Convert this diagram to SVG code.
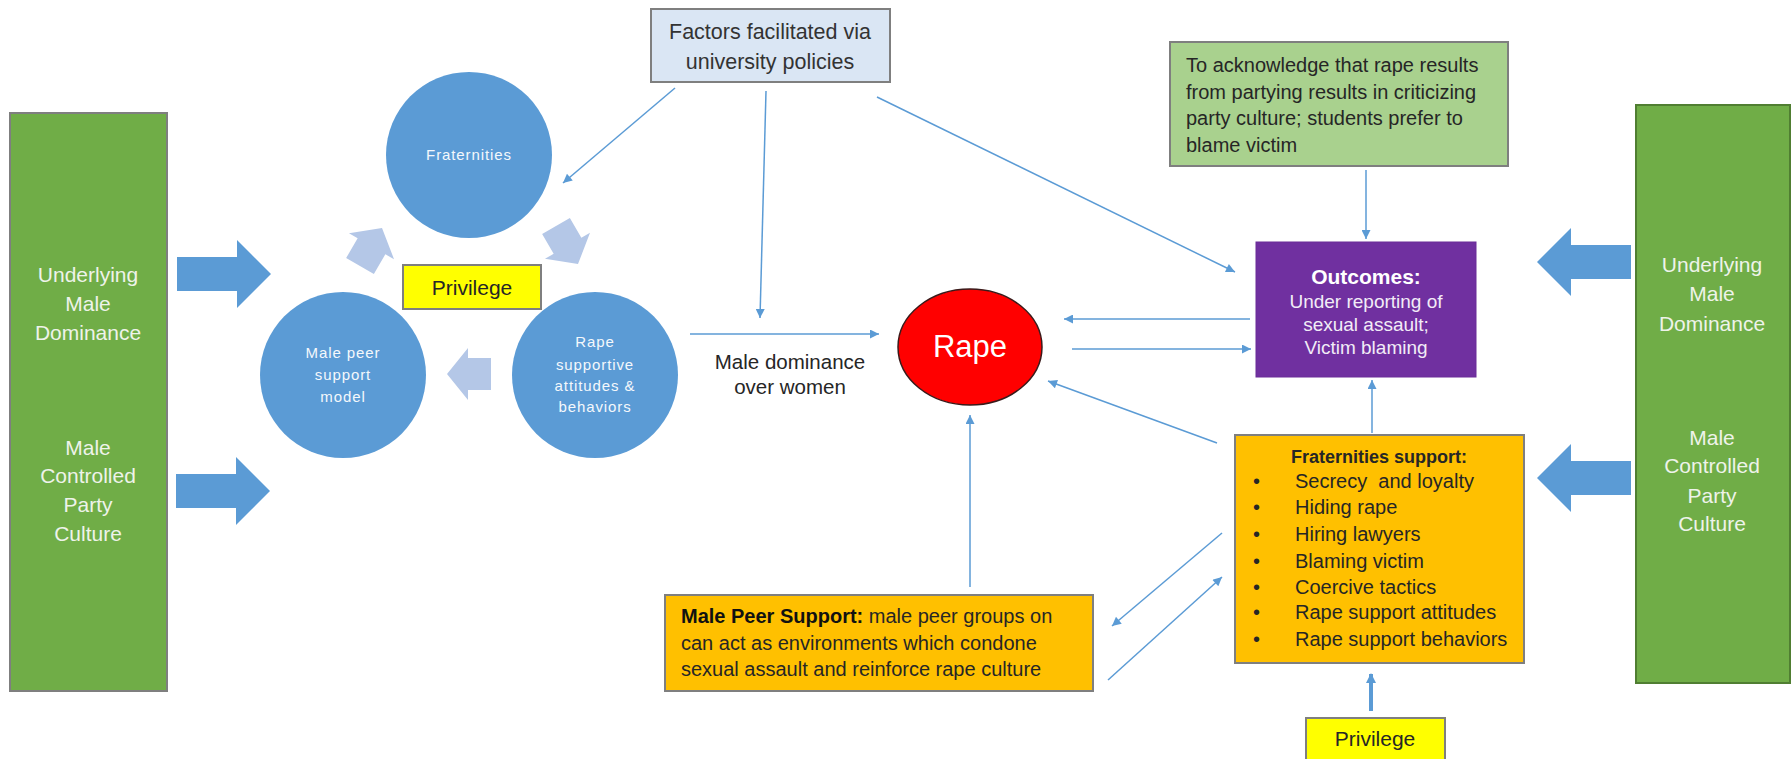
<svg xmlns="http://www.w3.org/2000/svg" width="1792" height="759" viewBox="0 0 1792 759">
<style>
  text { font-family: "Liberation Sans", Arial, sans-serif; }
  .wt { fill: #eef3ea; font-size: 21px; text-anchor: middle; }
  .ct { fill: #f4f8fc; font-size: 15px; text-anchor: middle; letter-spacing: 0.9px; }
  .dk { fill: #262626; }
  .conn { stroke: #5b9bd5; stroke-width: 1.5; fill: none; marker-end: url(#ah); }
  .box { stroke: #7f7f7f; stroke-width: 2; }
  .big { fill: #5b9bd5; }
  .pale { fill: #b4c7e7; }
  .circ { fill: #5b9bd5; }
</style>
<defs>
  <marker id="ah" viewBox="0 0 10 10" refX="10" refY="5" markerWidth="11" markerHeight="9" markerUnits="userSpaceOnUse" orient="auto">
    <path d="M0,0 L10,5 L0,10 z" fill="#5b9bd5"/>
  </marker>
  <marker id="ahT" viewBox="0 0 10 10" refX="9" refY="5" markerWidth="12" markerHeight="10" markerUnits="userSpaceOnUse" orient="auto">
    <path d="M0,0 L10,5 L0,10 z" fill="#5b9bd5"/>
  </marker>
  <path id="bigArrow" d="M0,-17 H60 V-34 L94,0 L60,34 V17 H0 Z"/>
  <path id="paleArrow" d="M-22,-16 H1 V-26 L22,0 L1,26 V16 H-22 Z"/>
</defs>
<rect width="1792" height="759" fill="#ffffff"/>

<!-- Left green column -->
<g id="left-column">
  <rect x="10" y="113" width="157" height="578" fill="#70ad47" stroke="#7f7f7f" stroke-width="2"/>
  <text class="wt" x="88" y="282">Underlying</text>
  <text class="wt" x="88" y="311">Male</text>
  <text class="wt" x="88" y="340">Dominance</text>
  <text class="wt" x="88" y="455">Male</text>
  <text class="wt" x="88" y="483">Controlled</text>
  <text class="wt" x="88" y="512">Party</text>
  <text class="wt" x="88" y="541">Culture</text>
</g>

<!-- Right green column -->
<g id="right-column">
  <rect x="1636" y="105" width="154" height="578" fill="#70ad47" stroke="#507e32" stroke-width="2"/>
  <text class="wt" x="1712" y="272">Underlying</text>
  <text class="wt" x="1712" y="301">Male</text>
  <text class="wt" x="1712" y="331">Dominance</text>
  <text class="wt" x="1712" y="445">Male</text>
  <text class="wt" x="1712" y="473">Controlled</text>
  <text class="wt" x="1712" y="503">Party</text>
  <text class="wt" x="1712" y="531">Culture</text>
</g>

<!-- Big block arrows -->
<g id="big-arrows">
  <use href="#bigArrow" class="big" transform="translate(177,274)"/>
  <use href="#bigArrow" class="big" transform="translate(176,491)"/>
  <use href="#bigArrow" class="big" transform="translate(1631,262) scale(-1,1)"/>
  <use href="#bigArrow" class="big" transform="translate(1631,478) scale(-1,1)"/>
</g>

<!-- Cycle circles -->
<g id="fraternities">
  <circle class="circ" cx="469" cy="155" r="83"/>
  <text class="ct" x="469" y="160">Fraternities</text>
</g>
<g id="male-peer-model">
  <circle class="circ" cx="343" cy="375" r="83"/>
  <text class="ct" x="343" y="358">Male peer</text>
  <text class="ct" x="343" y="380">support</text>
  <text class="ct" x="343" y="402">model</text>
</g>
<g id="rape-supportive">
  <circle class="circ" cx="595" cy="375" r="83"/>
  <text class="ct" x="595" y="347">Rape</text>
  <text class="ct" x="595" y="370">supportive</text>
  <text class="ct" x="595" y="391">attitudes &amp;</text>
  <text class="ct" x="595" y="412">behaviors</text>
</g>
<g id="cycle-arrows">
  <use href="#paleArrow" class="pale" transform="translate(371,247) rotate(-60)"/>
  <use href="#paleArrow" class="pale" transform="translate(567,245) rotate(60)"/>
  <use href="#paleArrow" class="pale" transform="translate(469,374) rotate(180)"/>
</g>

<g id="privilege-top">
  <rect class="box" x="403" y="265" width="138" height="44" fill="#ffff00"/>
  <text class="dk" x="472" y="295" font-size="21" text-anchor="middle">Privilege</text>
</g>

<!-- Factors box -->
<g id="factors">
  <rect class="box" x="651" y="9" width="239" height="73" fill="#dae6f4"/>
  <text x="770" y="39" font-size="21.5" text-anchor="middle" fill="#333333">Factors facilitated via</text>
  <text x="770" y="69" font-size="21.5" text-anchor="middle" fill="#333333">university policies</text>
</g>

<!-- Green note box -->
<g id="acknowledge">
  <rect class="box" x="1170" y="42" width="338" height="124" fill="#a9d18e"/>
  <text class="dk" font-size="20" x="1186" y="72">To acknowledge that rape results</text>
  <text class="dk" font-size="20" x="1186" y="99">from partying results in criticizing</text>
  <text class="dk" font-size="20" x="1186" y="125">party culture; students prefer to</text>
  <text class="dk" font-size="20" x="1186" y="152">blame victim</text>
</g>

<!-- Outcomes -->
<g id="outcomes">
  <rect x="1256" y="242" width="220" height="135" fill="#7030a0" stroke="#6a2d98" stroke-width="1"/>
  <text x="1366" y="284" font-size="21" font-weight="bold" text-anchor="middle" fill="#ffffff">Outcomes:</text>
  <text x="1366" y="308" font-size="19" text-anchor="middle" fill="#f2ecf7">Under reporting of</text>
  <text x="1366" y="331" font-size="19" text-anchor="middle" fill="#f2ecf7">sexual assault;</text>
  <text x="1366" y="354" font-size="19" text-anchor="middle" fill="#f2ecf7">Victim blaming</text>
</g>

<!-- Rape -->
<g id="rape">
  <ellipse cx="970" cy="347" rx="72" ry="58" fill="#ff0000" stroke="#3a1a1a" stroke-width="1.5"/>
  <text x="970" y="357" font-size="31" text-anchor="middle" fill="#ffffff">Rape</text>
</g>

<!-- Male dominance label -->
<g id="male-dominance-label">
  <text class="dk" x="790" y="369" font-size="20.5" text-anchor="middle">Male dominance</text>
  <text class="dk" x="790" y="394" font-size="20.5" text-anchor="middle">over women</text>
</g>

<!-- Fraternities support -->
<g id="fraternities-support">
  <rect class="box" x="1235" y="435" width="289" height="228" fill="#ffc000"/>
  <text class="dk" x="1379" y="463" font-size="18" font-weight="bold" text-anchor="middle">Fraternities support:</text>
  <g font-size="20" fill="#262626">
    <text x="1253" y="488">•</text><text x="1295" y="488" xml:space="preserve">Secrecy  and loyalty</text>
    <text x="1253" y="514">•</text><text x="1295" y="514">Hiding rape</text>
    <text x="1253" y="541">•</text><text x="1295" y="541">Hiring lawyers</text>
    <text x="1253" y="568">•</text><text x="1295" y="568">Blaming victim</text>
    <text x="1253" y="594">•</text><text x="1295" y="594">Coercive tactics</text>
    <text x="1253" y="619">•</text><text x="1295" y="619">Rape support attitudes</text>
    <text x="1253" y="646">•</text><text x="1295" y="646">Rape support behaviors</text>
  </g>
</g>

<!-- Male Peer Support box -->
<g id="male-peer-support">
  <rect class="box" x="665" y="595" width="428" height="96" fill="#ffc000"/>
  <text font-size="20" fill="#262626" x="681" y="623"><tspan font-weight="bold" fill="#111">Male Peer Support:</tspan> male peer groups on</text>
  <text font-size="20" fill="#262626" x="681" y="650">can act as environments which condone</text>
  <text font-size="20" fill="#262626" x="681" y="676">sexual assault and reinforce rape culture</text>
</g>

<!-- Privilege bottom -->
<g id="privilege-bottom">
  <rect class="box" x="1306" y="718" width="139" height="46" fill="#ffff00"/>
  <text class="dk" x="1375" y="746" font-size="21" text-anchor="middle">Privilege</text>
</g>

<!-- Connectors -->
<g id="connectors">
  <line class="conn" x1="675" y1="88" x2="563" y2="183"/>
  <line class="conn" x1="766" y1="91" x2="760" y2="318"/>
  <line class="conn" x1="877" y1="97" x2="1235" y2="272"/>
  <line class="conn" x1="690" y1="334" x2="879" y2="334"/>
  <line class="conn" x1="1366" y1="170" x2="1366" y2="239"/>
  <line class="conn" x1="1250" y1="319" x2="1064" y2="319"/>
  <line class="conn" x1="1072" y1="349" x2="1251" y2="349"/>
  <line class="conn" x1="1217" y1="443" x2="1048" y2="381"/>
  <line class="conn" x1="1372" y1="433" x2="1372" y2="380"/>
  <line class="conn" x1="970" y1="587" x2="970" y2="415"/>
  <line class="conn" x1="1222" y1="533" x2="1112" y2="626"/>
  <line class="conn" x1="1108" y1="680" x2="1222" y2="577"/>
  <line x1="1371" y1="711" x2="1371" y2="674" stroke="#5b9bd5" stroke-width="4" marker-end="url(#ahT)"/>
</g>
</svg>
